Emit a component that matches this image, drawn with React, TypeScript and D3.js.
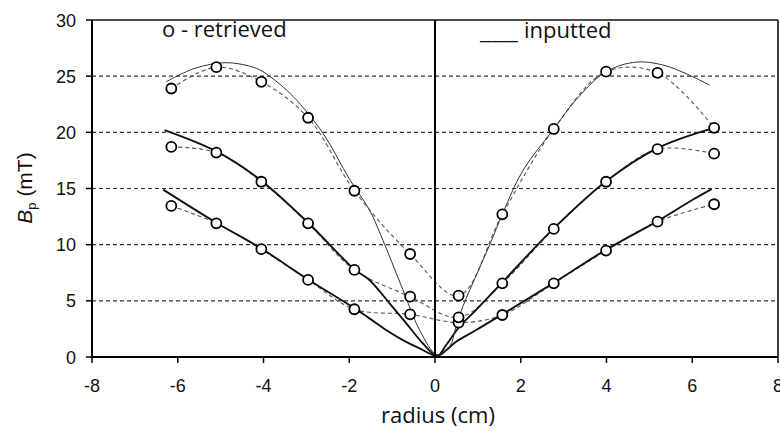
import React from "react";
import * as d3 from "d3";

// ---- Data ----
const xTicks = [-8, -6, -4, -2, 0, 2, 4, 6, 8];
const yTicks = [0, 5, 10, 15, 20, 25, 30];
const gridValues = [5, 10, 15, 20, 25];

// retrieved (circles + dashed smoothed line)
const retrievedX = [-6.15, -5.1, -4.05, -2.96, -1.88, -0.58, 0.55, 1.57, 2.77, 3.99, 5.19, 6.51];
const retrievedLow = [13.45, 11.9, 9.6, 6.86, 4.25, 3.8, 3.06, 3.74, 6.56, 9.47, 12.05, 13.6];
const retrievedMid = [18.7, 18.2, 15.6, 11.9, 7.75, 5.37, 3.53, 6.56, 11.4, 15.6, 18.5, 18.1];
const retrievedHigh = [23.9, 25.8, 24.5, 21.3, 14.8, 9.17, 5.46, 12.7, 20.3, 25.4, 25.3, 20.4];

// inputted (solid lines)
const inputLowX = [-6.34, -5.1, -4.05, -2.96, -1.88, -1.53, -1.14, -0.75, -0.36, 0.05, 0.26, 0.49, 0.96, 1.57, 2.77, 3.99, 5.19, 6.01, 6.45];
const inputLowY = [14.9, 11.95, 9.65, 6.9, 4.35, 3.44, 2.4, 1.5, 0.77, 0.1, 0.6, 1.36, 2.4, 3.8, 6.6, 9.55, 12.1, 14.0, 14.95];
const inputMidX = [-6.31, -5.1, -4.05, -2.96, -1.88, -1.53, -1.06, -0.67, -0.28, 0.05, 0.26, 0.57, 0.96, 1.57, 2.77, 3.99, 5.19, 6.51];
const inputMidY = [20.2, 18.3, 15.7, 11.95, 7.8, 6.86, 4.78, 3.0, 1.2, 0.1, 1.07, 2.7, 4.2, 6.65, 11.45, 15.65, 18.6, 20.4];
const inputHighX = [-6.27, -5.6, -4.87, -4.17, -3.86, -3.31, -2.61, -1.99, -1.53, -1.27, -0.75, -0.36, 0.05, 0.34, 0.49, 0.65, 1.0, 1.3, 1.57, 2.05, 2.77, 3.29, 3.99, 4.69, 5.31, 5.93, 6.4];
const inputHighY = [24.5, 25.7, 26.2, 25.7, 25.0, 23.2, 19.9, 15.8, 13.1, 10.9, 6.0, 2.4, 0.2, 0.92, 2.7, 4.5, 7.6, 10.2, 12.7, 16.6, 20.3, 22.9, 25.4, 26.25, 26.0, 25.1, 24.2];

const legendRetrieved = "o - retrieved";
const legendInputted = "inputted";
const xTitle = "radius (cm)";

const W = 780;
const H = 434;
const plot = { left: 92, right: 778, top: 20, bottom: 357 };

export default function App() {
  const x = d3.scaleLinear().domain([-8, 8]).range([plot.left, plot.right]);
  const y = d3.scaleLinear().domain([0, 30]).range([plot.bottom, plot.top]);

  const smooth = d3
    .line<[number, number]>()
    .x((d) => x(d[0]))
    .y((d) => y(d[1]))
    .curve(d3.curveCatmullRom.alpha(0.5));

  const zip = (xs: number[], ys: number[]) => xs.map((v, i) => [v, ys[i]] as [number, number]);

  const inputs = [
    { pts: zip(inputLowX, inputLowY), w: 1.9, c: "#111" },
    { pts: zip(inputMidX, inputMidY), w: 1.9, c: "#111" },
    { pts: zip(inputHighX, inputHighY), w: 1.0, c: "#333" },
  ];
  const retrieved = [retrievedLow, retrievedMid, retrievedHigh].map((ys) => zip(retrievedX, ys));

  const tickFont = "'Liberation Sans', Arial, sans-serif";
  const textFont = "'Open Sans', 'Noto Sans', sans-serif";

  return (
    <svg
      width={W}
      height={H}
      style={{ position: "absolute", left: 0, top: 0, background: "#fff" }}
    >
      <rect x={0} y={0} width={W} height={H} fill="#fff" />
      {/* grid */}
      {gridValues.map((v) => (
        <line
          key={"g" + v}
          x1={plot.left}
          x2={plot.right}
          y1={y(v)}
          y2={y(v)}
          stroke="#333"
          strokeWidth={1.1}
          strokeDasharray="4,3"
        />
      ))}
      {/* dashed retrieved lines */}
      {retrieved.map((pts, i) => (
        <path
          key={"d" + i}
          d={smooth(pts) || ""}
          fill="none"
          stroke="#555"
          strokeWidth={1.1}
          strokeDasharray="4,3"
        />
      ))}
      {/* solid inputted lines */}
      {inputs.map((s, i) => (
        <path key={"s" + i} d={smooth(s.pts) || ""} fill="none" stroke={s.c} strokeWidth={s.w} />
      ))}
      {/* vertical line at 0 */}
      <line x1={x(0)} x2={x(0)} y1={plot.top} y2={plot.bottom} stroke="#000" strokeWidth={2} />
      {/* frame */}
      <line x1={plot.left} x2={plot.right} y1={plot.top} y2={plot.top} stroke="#111" strokeWidth={1.6} />
      <line x1={plot.right} x2={plot.right} y1={plot.top} y2={plot.bottom} stroke="#111" strokeWidth={1.6} />
      <line x1={plot.left} x2={plot.left} y1={plot.top} y2={plot.bottom} stroke="#000" strokeWidth={2} />
      <line x1={plot.left} x2={plot.right} y1={plot.bottom} y2={plot.bottom} stroke="#000" strokeWidth={2} />
      {/* circles */}
      {retrieved.map((pts, i) =>
        pts.map((p, j) => (
          <circle
            key={"c" + i + "-" + j}
            cx={x(p[0])}
            cy={y(p[1])}
            r={5}
            fill="#fff"
            stroke="#000"
            strokeWidth={1.8}
          />
        ))
      )}
      {/* y ticks */}
      {yTicks.map((v) => (
        <g key={"yt" + v}>
          <line x1={plot.left - 6} x2={plot.left} y1={y(v)} y2={y(v)} stroke="#000" strokeWidth={1.5} />
          <text
            x={76}
            y={y(v) + 6.5}
            textAnchor="end"
            fontFamily={tickFont}
            fontSize={18}
            fill="#111"
          >
            {v}
          </text>
        </g>
      ))}
      {/* x ticks */}
      {xTicks.map((v) => (
        <g key={"xt" + v}>
          <line x1={x(v)} x2={x(v)} y1={plot.bottom} y2={plot.bottom + 6} stroke="#000" strokeWidth={1.5} />
          <text
            x={x(v)}
            y={392}
            textAnchor="middle"
            fontFamily={tickFont}
            fontSize={18}
            fill="#111"
          >
            {v}
          </text>
        </g>
      ))}
      {/* legend texts */}
      <text x={162} y={36.5} fontFamily={textFont} fontSize={22} fill="#111">
        {legendRetrieved}
      </text>
      <text x={480} y={38.5} fontFamily={textFont} fontSize={22} fill="#111" textLength={38} lengthAdjust="spacingAndGlyphs">
        ___
      </text>
      <text x={524} y={37.5} fontFamily={textFont} fontSize={22} fill="#111">
        {legendInputted}
      </text>
      {/* axis titles */}
      <text x={438} y={423} textAnchor="middle" fontFamily={textFont} fontSize={22} fill="#111">
        {xTitle}
      </text>
      <text
        transform="translate(32,188) rotate(-90)"
        textAnchor="middle"
        fontFamily={tickFont}
        fontSize={21}
        fill="#111"
      >
        <tspan fontStyle="italic">B</tspan>
        <tspan fontSize={13} dy={4}>p</tspan>
        <tspan dy={-4}> (mT)</tspan>
      </text>
    </svg>
  );
}
